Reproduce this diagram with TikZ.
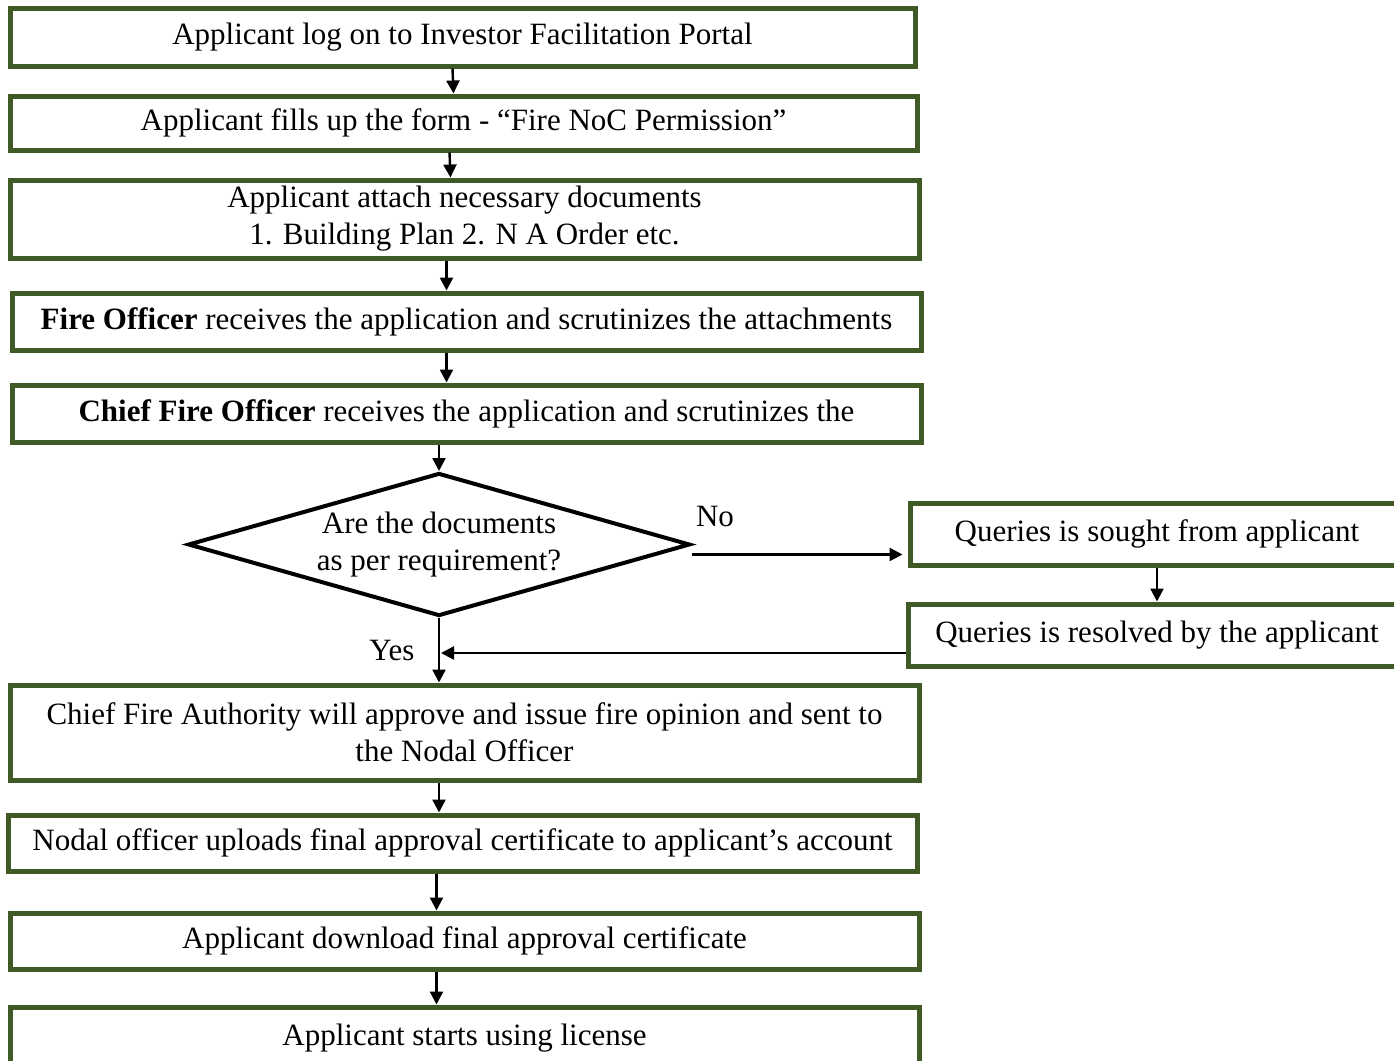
\documentclass[tikz,border=0pt]{standalone}
\usepackage{fontspec}
\setmainfont{Liberation Serif}
\usetikzlibrary{positioning,arrows.meta,shapes.geometric,calc}
\definecolor{boxgreen}{RGB}{64,90,38}

\begin{document}
\begin{tikzpicture}[x=0.5pt,y=-0.5pt,font=\fontsize{15.5}{18.5}\selectfont,
  box/.style={draw=boxgreen,line width=2.5pt,rectangle,inner sep=2pt,align=center},
  query/.style={draw,diamond,line width=2pt,inner sep=0pt,align=center,aspect=3.5},
  arr/.style={-{Triangle[length=6.5pt,width=6.5pt]},line width=1.2pt}]
\useasboundingbox (0,0) rectangle (1394,1061);
\clip (0,0) rectangle (1394,1061);
% main column
\node[box,minimum width=452.5pt,minimum height=29pt] (logon) at (462.5,37) {Applicant log on to Investor Facilitation Portal};
\node[box,minimum width=453.5pt,minimum height=27pt] (form) at (463.5,123) {Applicant fills up the form - “Fire NoC Permission”};
\node[box,minimum width=454.5pt,minimum height=39pt] (docs) at (464.5,219) {Applicant attach necessary documents\\1. Building Plan 2. N A Order etc.};
\node[box,minimum width=454.5pt,minimum height=28.5pt] (fo) at (466.5,321.5) {\textbf{Fire Officer} receives the application and scrutinizes the attachments};
\node[box,minimum width=454.5pt,minimum height=28.5pt] (cfo) at (466.5,413.5) {\textbf{Chief Fire Officer} receives the application and scrutinizes the};
\node[query,minimum width=251pt,minimum height=71.5pt] (check) at (439,544.5) {Are the documents\\as per requirement?};
\node[box,minimum width=454.5pt,minimum height=47.5pt] (cfa) at (464.5,732.5) {Chief Fire Authority will approve and issue fire opinion and sent to\\the Nodal Officer};
\node[box,minimum width=454.5pt,minimum height=28pt] (nodal) at (462.5,843) {Nodal officer uploads final approval certificate to applicant’s account};
\node[box,minimum width=454.5pt,minimum height=28pt] (dl) at (464.5,941) {Applicant download final approval certificate};
\node[box,minimum width=454.5pt,minimum height=31pt] (use) at (464.5,1038) {Applicant starts using license};
% query loop
\node[box,minimum width=247pt,minimum height=31pt] (sought) at (1157,534) {Queries is sought from applicant};
\node[box,minimum width=249pt,minimum height=31pt] (resolved) at (1157,635) {Queries is resolved by the applicant};
\node (nolab) at (715,516) {No};
\node (yeslab) at (392,650) {Yes};
% arrows
\draw[arr] ([xshift=-5pt]logon.south) -- ([xshift=-5pt]form.north);
\draw[arr] ([xshift=-7pt]form.south) -- ([xshift=-7pt]docs.north);
\draw[arr] ([xshift=-9pt]docs.south) -- ([xshift=-10pt]fo.north);
\draw[arr] ([xshift=-10pt]fo.south) -- ([xshift=-10pt]cfo.north);
\draw[arr] (cfo.south -| check.north) -- (check.north);
\draw[arr] (check.south) -- (cfa.north -| check.south);
\draw[arr] ([yshift=-5pt]check.east) -- ([yshift=-5pt,xshift=-2.5pt]check.east -| sought.west);
\draw[arr] (sought.south) -- (resolved.north);
\draw[arr] ([yshift=-9pt]resolved.west) -- ([yshift=-9pt,xshift=1pt]resolved.west -| check.south);
\draw[arr] (cfa.south -| check.south) -- (nodal.north -| check.south);
\draw[arr] ([xshift=-14pt]dl.north |- nodal.south) -- ([xshift=-14pt]dl.north);
\draw[arr] ([xshift=-14pt]dl.south) -- ([xshift=-14pt]use.north);
\end{tikzpicture}
\end{document}
